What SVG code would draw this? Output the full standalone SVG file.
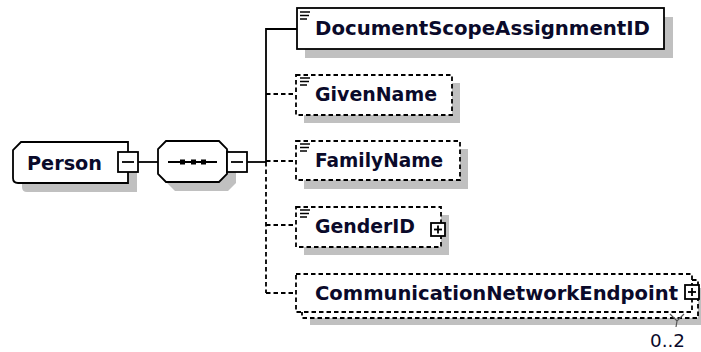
<svg xmlns="http://www.w3.org/2000/svg" width="701" height="352" viewBox="0 0 701 352">
<style>
.sh{fill:#c0c0c0;stroke:none}
.box{fill:#fff;stroke:#000;stroke-width:1.8}
.opt{fill:#fff;stroke:#000;stroke-width:1.8;stroke-dasharray:4.5 3}
.lbl{font-family:"DejaVu Sans",Verdana,sans-serif;font-weight:bold;font-size:19.5px;fill:#0a0a2a}
.occ{font-family:"DejaVu Sans",Verdana,sans-serif;font-size:18px;fill:#0a0a2a}
.ln{stroke:#000;stroke-width:1.8;fill:none}
.dl{stroke:#000;stroke-width:1.8;fill:none;stroke-dasharray:4.5 3}
.ic{stroke:#000;stroke-width:1.5}
</style>
<defs>
<g id="icon">
<line class="ic" x1="0" y1="0" x2="10" y2="0"/>
<line class="ic" x1="0" y1="3.5" x2="9" y2="3.5"/>
<line class="ic" x1="0" y1="7" x2="7" y2="7"/>
</g>
</defs>
<g id="connectors">
<line class="ln" x1="138" y1="162" x2="158" y2="162"/>
<line class="ln" x1="247" y1="162" x2="266" y2="162"/>
<polyline class="ln" points="297,29 266,29 266,162"/>
<line class="dl" x1="266" y1="162" x2="266" y2="293"/>
<line class="dl" x1="266" y1="94" x2="296" y2="94"/>
<line class="dl" x1="266" y1="161" x2="296" y2="161"/>
<line class="dl" x1="266" y1="225" x2="296" y2="225"/>
<line class="dl" x1="266" y1="293" x2="296" y2="293"/>
</g>
<g id="node-person">
<path class="sh" d="M30,151 H137 V192 H27 Q22,192 22,187 V159 Z"/>
<path class="box" d="M21,142 H128 V183 H18 Q13,183 13,178 V150 Z"/>
<text class="lbl" x="27" y="170" textLength="75" lengthAdjust="spacingAndGlyphs">Person</text>
<rect class="box" x="118" y="152" width="20" height="20"/>
<line class="ln" x1="122" y1="162" x2="134" y2="162"/>
</g>
<g id="node-sequence">
<polygon class="sh" points="175,150 228,150 236,158 236,183 228,191 175,191 167,183 167,158"/>
<polygon class="box" points="166,141 219,141 227,149 227,174 219,182 166,182 158,174 158,149"/>
<line class="ln" x1="168" y1="162" x2="217" y2="162"/>
<rect x="180" y="159.5" width="5" height="5" fill="#000"/>
<rect x="191" y="159.5" width="5" height="5" fill="#000"/>
<rect x="201" y="159.5" width="5" height="5" fill="#000"/>
<rect class="box" x="227" y="152" width="20" height="20"/>
<line class="ln" x1="231" y1="162" x2="243" y2="162"/>
</g>
<g id="node-documentscopeassignmentid">
<rect class="sh" x="305" y="17" width="368" height="41"/>
<rect class="box" x="297" y="8" width="367" height="41"/>
<use href="#icon" x="300" y="12"/>
<text class="lbl" x="315" y="35" textLength="335" lengthAdjust="spacingAndGlyphs">DocumentScopeAssignmentID</text>
</g>
<g id="node-givenname">
<rect class="sh" x="304" y="83" width="156" height="40"/>
<rect class="opt" x="296" y="75" width="156" height="40"/>
<use href="#icon" x="300" y="78"/>
<text class="lbl" x="315" y="101" textLength="122" lengthAdjust="spacingAndGlyphs">GivenName</text>
</g>
<g id="node-familyname">
<rect class="sh" x="304" y="149" width="164" height="40"/>
<rect class="opt" x="296" y="141" width="164" height="39"/>
<use href="#icon" x="300" y="144"/>
<text class="lbl" x="315" y="167" textLength="128" lengthAdjust="spacingAndGlyphs">FamilyName</text>
</g>
<g id="node-genderid">
<rect class="sh" x="304" y="215" width="145" height="40"/>
<rect class="opt" x="296" y="207" width="145" height="40"/>
<use href="#icon" x="300" y="210"/>
<text class="lbl" x="315" y="233" textLength="100" lengthAdjust="spacingAndGlyphs">GenderID</text>
<rect class="box" x="431" y="223" width="14" height="13"/>
<line class="ln" x1="434" y1="229.5" x2="442" y2="229.5"/>
<line class="ln" x1="438" y1="225.5" x2="438" y2="233.5"/>
</g>
<g id="node-communicationnetworkendpoint">
<rect class="sh" x="310" y="288" width="396" height="37"/>
<rect class="opt" x="302" y="280" width="396" height="38"/>
<rect class="opt" x="296" y="274" width="396" height="38"/>
<text class="lbl" x="315" y="300" textLength="363" lengthAdjust="spacingAndGlyphs">CommunicationNetworkEndpoint</text>
<rect class="box" x="685" y="285" width="14" height="14"/>
<line class="ln" x1="688" y1="292" x2="696" y2="292"/>
<line class="ln" x1="692" y1="288" x2="692" y2="296"/>
<path d="M670,314 L677,321 L684,314 M677,321 L676,327" stroke="#555" stroke-width="1.2" fill="none"/>
<text class="occ" x="650" y="347" textLength="35" lengthAdjust="spacingAndGlyphs">0..2</text>
</g>
</svg>
